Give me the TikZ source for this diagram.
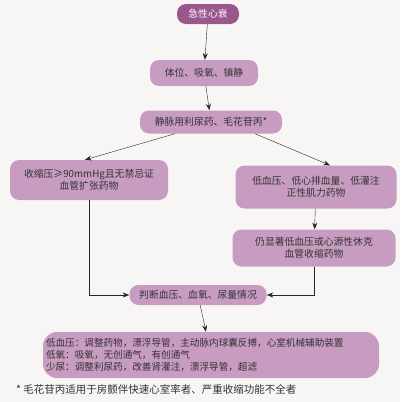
\documentclass[tikz,border=0pt]{standalone}
\usepackage{fontspec}
\setmainfont{Noto Sans CJK SC}
\usetikzlibrary{arrows.meta, positioning, calc}
\definecolor{hf}{HTML}{C89BC0}
\definecolor{hfdark}{HTML}{9A578C}
\definecolor{paper}{HTML}{F8F6F5}

\begin{document}
\begin{tikzpicture}[
    x=1pt, y=-1pt,
    font=\fontsize{9.8}{12}\selectfont,
    >={Stealth[length=2.3mm]},
    box/.style={fill=hf, rounded corners=9pt, align=center, inner sep=3pt, text=black!80},
    flow/.style={->, thin, draw=black!85},
  ]
  \useasboundingbox[fill=paper] (0,0) rectangle (400,402);
  % ---- main column
  \node[box, fill=hfdark, text=white, minimum width=62pt, minimum height=20pt] (onset) at (208,14) {急性心衰};
  \node[box, minimum width=108pt, minimum height=26pt] (pos) at (204,73) {体位、吸氧、镇静};
  \node[box, minimum width=142pt, minimum height=23pt] (diur) at (211,122) {静脉用利尿药、毛花苷丙*};
  % ---- two branches
  \node[box, text width=152pt, minimum height=40pt] (vaso) at (89,180) {收缩压≥90mmHg且无禁忌证\\ 血管扩张药物};
  \node[box, text width=155pt, minimum height=43pt] (inot) at (316,187) {低血压、低心排血量、低灌注\\ 正性肌力药物};
  \node[box, text width=157pt, minimum height=37pt] (press) at (314,248) {仍显著低血压或心源性休克\\ 血管收缩药物};
  % ---- check and treatment
  \node[box, minimum width=137pt, minimum height=20pt] (judge) at (198,295) {判断血压、血氧、尿量情况};
  \node[box, align=left, text width=330pt, minimum height=46pt, rounded corners=14pt, font=\fontsize{9.6}{11.8}\selectfont] (manage) at (211,355) {低血压：调整药物，漂浮导管，主动脉内球囊反搏，心室机械辅助装置\\ 低氧：吸氧，无创通气，有创通气\\ 少尿：调整利尿药，改善肾灌注，漂浮导管，超滤};
  \node[anchor=west, inner sep=0pt, text=black!80, font=\fontsize{10.5}{12}\selectfont] (note) at (16,389) {* 毛花苷丙适用于房颤伴快速心室率者、严重收缩功能不全者};
  % ---- arrows
  \draw[flow] (onset) -- (pos);
  \draw[flow] (pos) -- (diur);
  \draw[flow] ([xshift=-36pt]diur.south) -- ([xshift=-4pt]vaso.north);
  \draw[flow] ([xshift=44pt]diur.south) -- ([xshift=14pt]inot.north);
  \draw[flow] (inot) -- (press);
  \draw[flow] (vaso.south) |- (judge.west);
  \draw[flow] (press.south) |- (judge.east);
  \draw[flow] (judge) -- (manage);
\end{tikzpicture}
\end{document}
